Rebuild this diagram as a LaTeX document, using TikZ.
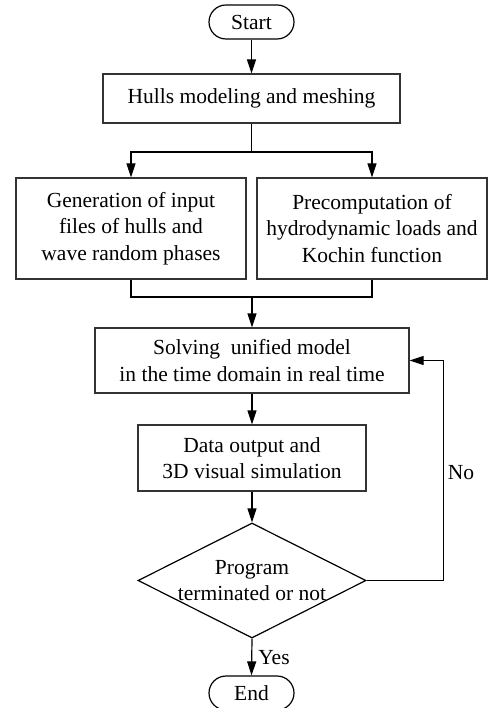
\documentclass[tikz,border=0pt]{standalone}
\usepackage{fontspec}
\setmainfont{Liberation Serif}
\usetikzlibrary{arrows.meta,shapes.geometric}
\begin{document}
\begin{tikzpicture}[x=1pt,y=-1pt,
  every node/.style={font=\fontsize{21.5}{26.5}\selectfont},
  box/.style={draw=black!80,line width=1.2pt,rectangle,inner sep=0pt,align=center},
  term/.style={draw=black,line width=1.2pt,rectangle,rounded corners=17pt,minimum width=85pt,minimum height=34pt,inner sep=0pt},
  arr/.style={line width=1.2pt,-{Triangle[length=14pt,width=9pt]}},
  ln/.style={line width=1.2pt}]
\useasboundingbox (0,0) rectangle (488,708);
\node[term] (start) at (251.5,22) {Start};
\node[box,minimum width=297pt,minimum height=49pt] (hulls) at (251.5,98.5) {Hulls modeling and meshing};
\node[box,minimum width=230pt,minimum height=101pt] (gen) at (131,228.5) {Generation of input\\files of hulls and\\wave random phases};
\node[box,minimum width=230pt,minimum height=101pt] (pre) at (372,228.5) {Precomputation of\\hydrodynamic loads and\\Kochin function};
\node[box,minimum width=314pt,minimum height=65pt] (solve) at (252,360.5) {Solving\ \ unified model\\in the time domain in real time};
\node[box,minimum width=228pt,minimum height=66pt] (data) at (252,458) {Data output and\\3D visual simulation};
\node[draw=black,line width=1.2pt,diamond,minimum width=228pt,minimum height=115pt,inner sep=0pt] (dec) at (252,580.5) {};
\node[align=center] (dectext) at (dec.center) {Program\\terminated or not};
\node[term] (end) at (251.5,693) {End};
\coordinate (sp) at (251.5,152);
\coordinate (jn) at (252,297);
\draw[arr] (start) -- (hulls);
\draw[ln] (hulls.south) -- (sp);
\draw[arr] (sp) -| (gen.north);
\draw[arr] (sp) -| (pre.north);
\draw[ln] (gen.south) |- (jn) -| (pre.south);
\draw[arr] (jn) -- (solve.north);
\draw[arr] (solve) -- (data);
\draw[arr] (data) -- (dec.north);
\draw[arr] (dec.east) -- ++(77,0) |- (solve.east);
\node (no) at (461,473) {No};
\draw[arr] (dec.south) -- (end.north);
\node (yes) at (274,658) {Yes};
\end{tikzpicture}
\end{document}
